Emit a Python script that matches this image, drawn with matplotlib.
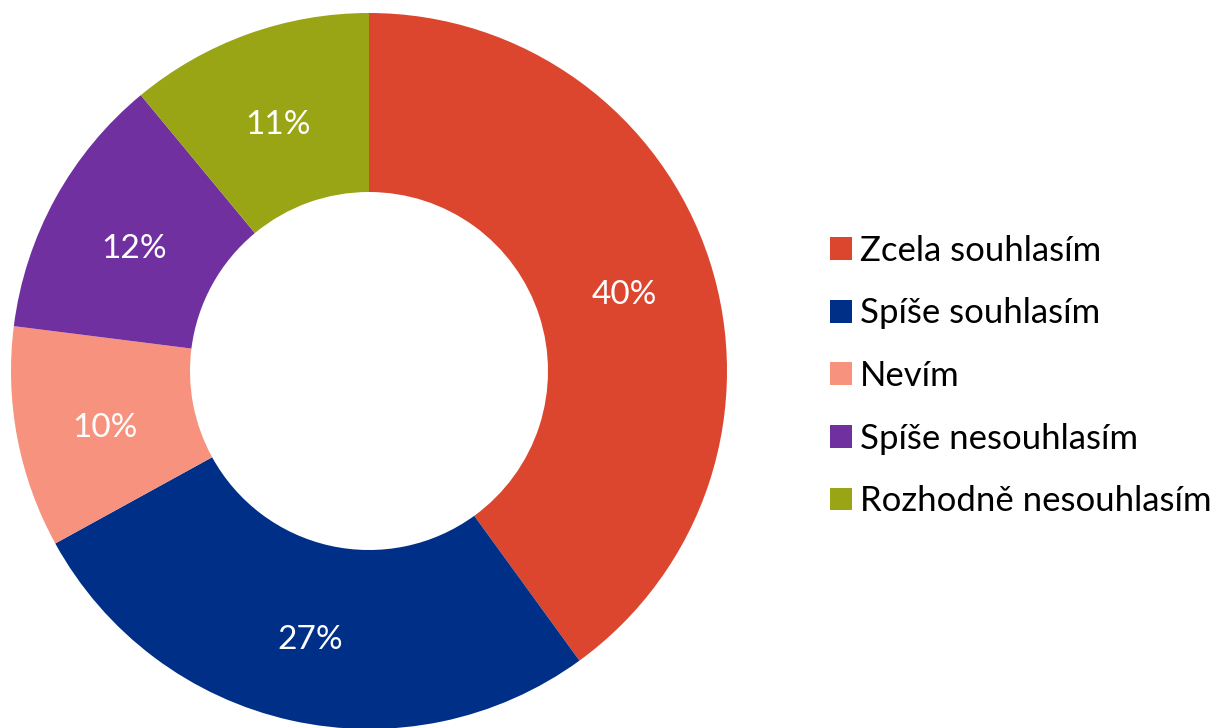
import matplotlib
matplotlib.use("Agg")
import matplotlib.pyplot as plt
from matplotlib.patches import Patch

categories = ["Zcela souhlasím", "Spíše souhlasím", "Nevím", "Spíše nesouhlasím", "Rozhodně nesouhlasím"]
values = [40, 27, 10, 12, 11]
colors = ["#DC462F", "#002F87", "#F7927E", "#7030A0", "#99A514"]

plt.rcParams['font.family'] = ['Lato', 'DejaVu Sans']

W, H = 1228, 728
fig = plt.figure(figsize=(W / 100, H / 100), dpi=100)
cx, cy, r = 369, 357, 358
ax = fig.add_axes([(cx - r) / W, (cy - r) / H, 2 * r / W, 2 * r / H])

wedges, texts, autotexts = ax.pie(
    values, colors=colors, startangle=90, counterclock=False,
    radius=1.0, wedgeprops=dict(width=0.5, edgecolor='none'),
    autopct=lambda p: f"{p:.0f}%", pctdistance=0.75,
    textprops=dict(color='white', fontsize=24))
# small downward nudge of labels to match reference text baseline
for t in autotexts:
    x, y = t.get_position()
    t.set_position((x, y - 7 / r))
ax.set_xlim(-1, 1)
ax.set_ylim(-1, 1)
ax.set_aspect('equal')
ax.axis('off')

handles = [Patch(facecolor=c, edgecolor='none') for c in colors]
fig.legend(handles, categories, loc='upper left',
           bbox_to_anchor=(816 / W, 1 - 221 / H), frameon=False,
           fontsize=25, handlelength=0.63, handleheight=0.63,
           handletextpad=0.23, labelspacing=0.88, borderaxespad=0)

fig.savefig("out.png", dpi=100)
